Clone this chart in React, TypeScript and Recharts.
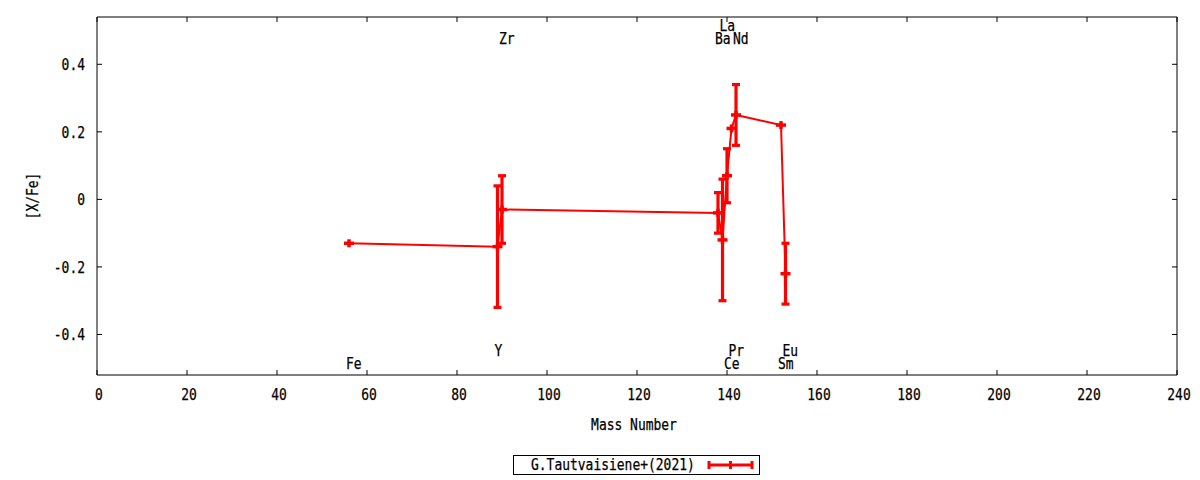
import React from 'react';
import { ComposedChart, Line, XAxis, YAxis, ErrorBar, Legend, ReferenceDot } from 'recharts';

// ---- data ----
const massNumbers = [56, 89, 90, 138, 139, 140, 141, 142, 152, 153];
const elements = ['Fe', 'Y', 'Zr', 'Ba', 'La', 'Ce', 'Pr', 'Nd', 'Sm', 'Eu'];
const xFeValues = [-0.13, -0.14, -0.03, -0.04, -0.12, 0.07, 0.21, 0.25, 0.22, -0.22];
const xFeErrors = [0, 0.18, 0.1, 0.06, 0.18, 0.08, 0, 0.09, 0, 0.09];
const labelRows = ['bottomLow', 'bottomHigh', 'topLow', 'topLow', 'topHigh', 'bottomLow', 'bottomHigh', 'topLow', 'bottomLow', 'bottomHigh'];
const xTicks = [0, 20, 40, 60, 80, 100, 120, 140, 160, 180, 200, 220, 240];
const yTicks = [-0.4, -0.2, 0, 0.2, 0.4];
const seriesName = 'G.Tautvaisiene+(2021)';
const xTitle = 'Mass Number';
const yTitle = '[X/Fe]';

// ---- styling ----
const RED = '#ff0000';
const FONT = "'DejaVu Sans Mono', monospace";
const FONT_SIZE = 15.5;
const CHAR_W = 7.8;
const ROW_Y: Record<string, number> = { topHigh: 0.5, topLow: 0.461, bottomHigh: -0.464, bottomLow: -0.501 };

const data = massNumbers.map((m, i) => ({
  mass: m,
  value: xFeValues[i],
  err: xFeErrors[i],
  element: elements[i],
}));

function T(props: any) {
  const { x, y, anchor = 'start', transform, children } = props;
  const s = String(children);
  return (
    <text
      x={x}
      y={y}
      textAnchor={anchor}
      transform={transform}
      fontFamily={FONT}
      fontSize={FONT_SIZE}
      textLength={s.length * CHAR_W}
      lengthAdjust="spacingAndGlyphs"
      fill="#000"
      stroke="#000"
      strokeWidth={0.25}
    >
      {s}
    </text>
  );
}

const XTick = (props: any) => {
  const { x, y, payload } = props;
  return <T x={x + 2} y={y} anchor="middle">{String(payload.value)}</T>;
};

const YTick = (props: any) => {
  const { x, y, payload } = props;
  const v = payload.value;
  const s = v === 0 ? '0' : v.toFixed(1);
  return <T x={x} y={y + 6} anchor="end">{s}</T>;
};

const EmptyTick = () => <g />;

const XTitle = (props: any) => {
  const vb = props.viewBox || { x: 97, y: 375, width: 1080 };
  return <T x={vb.x + vb.width / 2 - 3} y={vb.y + 55} anchor="middle">{xTitle}</T>;
};

const YTitle = (props: any) => {
  const vb = props.viewBox || { x: 0, y: 17, height: 358 };
  const cx = vb.x + 33;
  const cy = vb.y + vb.height / 2;
  return <T x={cx} y={cy} anchor="middle" transform={`rotate(-90 ${cx} ${cy}) translate(0 5)`}>{yTitle}</T>;
};

const PlusDot = (props: any) => {
  const { cx, cy } = props;
  if (cx == null || cy == null) return null;
  return (
    <g>
      <line x1={cx - 5} x2={cx + 5} y1={cy} y2={cy} stroke={RED} strokeWidth={3.5} />
      <line x1={cx} x2={cx} y1={cy - 4} y2={cy + 4} stroke={RED} strokeWidth={3.5} />
    </g>
  );
};

const LegendBox = () => (
  <svg width={248} height={21} style={{ display: 'block' }}>
    <rect x={0.5} y={0.5} width={246} height={19} fill="#fff" stroke="#000" strokeWidth={1} />
    <T x={18} y={14.5}>{seriesName}</T>
    <line x1={196} x2={239} y1={10} y2={10} stroke={RED} strokeWidth={3} />
    <line x1={196} x2={196} y1={6} y2={14} stroke={RED} strokeWidth={3} />
    <line x1={239} x2={239} y1={6} y2={14} stroke={RED} strokeWidth={3} />
    <line x1={217.5} x2={217.5} y1={6} y2={14} stroke={RED} strokeWidth={3} />
  </svg>
);

export default function App() {
  return (
    <div style={{ position: 'absolute', left: 0, top: 0, width: 1200, height: 480, background: '#fff' }}>
      <ComposedChart
        width={1200}
        height={480}
        data={data}
        margin={{ top: 16, right: 22, bottom: 0, left: 0 }}
      >
        <XAxis
          xAxisId="main"
          dataKey="mass"
          type="number"
          domain={[0, 240]}
          ticks={xTicks}
          interval={0}
          height={105}
          tickSize={-5}
          tickMargin={30}
          tick={<XTick />}
          stroke="#000"
          axisLine={{ stroke: '#000', strokeWidth: 1 }}
          tickLine={{ stroke: '#000', strokeWidth: 1 }}
          label={<XTitle />}
        />
        <XAxis
          xAxisId="top"
          orientation="top"
          type="number"
          dataKey="mass"
          domain={[0, 240]}
          ticks={xTicks}
          interval={0}
          height={1}
          tickSize={-5}
          tickMargin={0}
          tick={<EmptyTick />}
          stroke="#000"
          axisLine={{ stroke: '#000', strokeWidth: 1 }}
          tickLine={{ stroke: '#000', strokeWidth: 1 }}
        />
        <YAxis
          yAxisId="main"
          type="number"
          domain={[-0.52, 0.54]}
          ticks={yTicks}
          interval={0}
          width={97}
          tickSize={-5}
          tickMargin={17}
          tick={<YTick />}
          stroke="#000"
          axisLine={{ stroke: '#000', strokeWidth: 1 }}
          tickLine={{ stroke: '#000', strokeWidth: 1 }}
          allowDataOverflow
          label={<YTitle />}
        />
        <YAxis
          yAxisId="right"
          orientation="right"
          type="number"
          domain={[-0.52, 0.54]}
          ticks={yTicks}
          interval={0}
          width={1}
          tickSize={-5}
          tickMargin={0}
          tick={<EmptyTick />}
          stroke="#000"
          axisLine={{ stroke: '#000', strokeWidth: 1 }}
          tickLine={{ stroke: '#000', strokeWidth: 1 }}
          allowDataOverflow
        />
        {massNumbers.map((m, i) => (
          <ReferenceDot
            key={elements[i]}
            xAxisId="main"
            yAxisId="main"
            x={m}
            y={ROW_Y[labelRows[i]]}
            r={0}
            ifOverflow="visible"
            shape={(p: any) => <T x={p.cx - 3} y={p.cy}>{elements[i]}</T>}
          />
        ))}
        <Line
          xAxisId="main"
          yAxisId="main"
          type="linear"
          dataKey="value"
          name={seriesName}
          stroke={RED}
          strokeWidth={2}
          dot={<PlusDot />}
          activeDot={false}
          isAnimationActive={false}
        >
          <ErrorBar dataKey="err" direction="y" width={4} strokeWidth={3.2} stroke={RED} isAnimationActive={false} />
        </Line>
        <Legend
          layout="horizontal"
          verticalAlign="middle"
          align="center"
          wrapperStyle={{ position: 'absolute', left: 513, top: 455, width: 248, height: 21 }}
          content={<LegendBox />}
        />
      </ComposedChart>
    </div>
  );
}
